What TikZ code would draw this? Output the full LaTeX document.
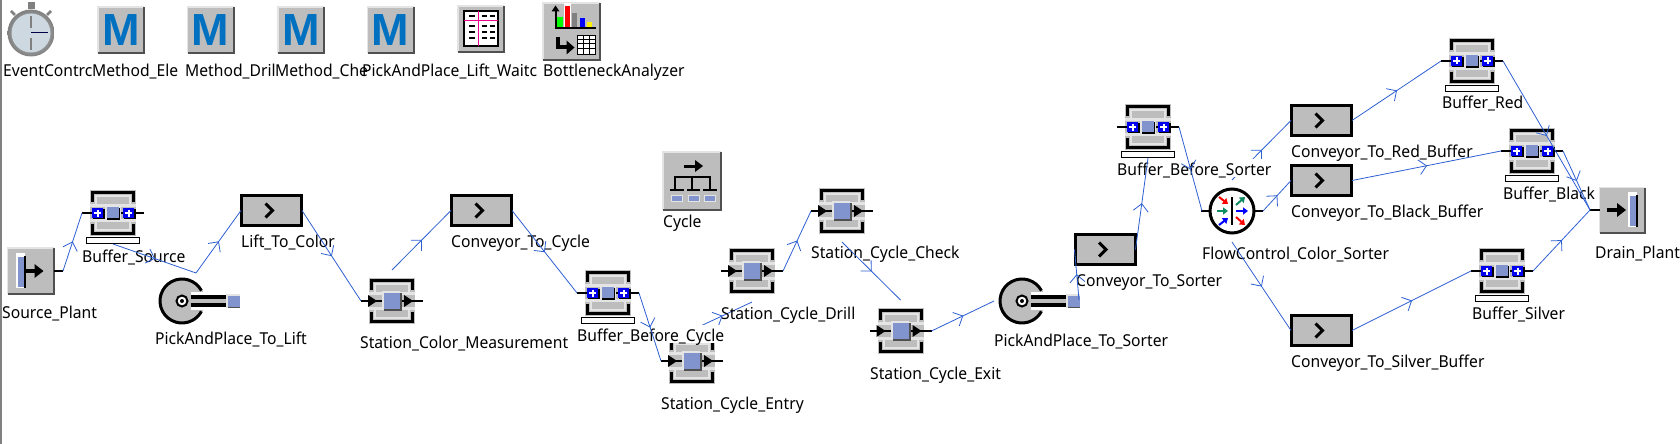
\documentclass[tikz,border=0pt]{standalone}
\usepackage{fontspec}
\setmainfont{Noto Sans}[FakeStretch=0.955]
\newfontfamily\iconfont{Liberation Sans}
\usetikzlibrary{arrows.meta,decorations.markings}
\definecolor{panelgray}{RGB}{189, 189, 189}
\definecolor{panellight}{RGB}{228, 228, 228}
\definecolor{paneldark}{RGB}{80, 80, 80}
\definecolor{itemblue}{RGB}{130, 148, 205}
\definecolor{plusblue}{RGB}{0, 0, 240}
\definecolor{linkblue}{RGB}{45, 95, 210}
\definecolor{methodblue}{RGB}{0, 112, 192}
\definecolor{flowgreen}{RGB}{16, 140, 100}
\definecolor{watchface}{RGB}{205, 216, 224}

% Shared parts of the icons
\newcommand{\flatpanel}[1]{
    \node[iconback, minimum size=#1pt] (-body) at (0,0) {};
    \draw[panellight, line width=1.5pt] (-body.south west) -- (-body.north west) -- (-body.north east);
    \draw[paneldark, line width=2pt] (-body.north east) -- (-body.south east) -- (-body.south west);
}
\newcommand{\bracketframe}{
    \node[iconback, minimum size=46pt] (-body) at (0,0) {};
    \draw[panellight, line width=2pt] (-17,-8) -- (-17,-17) -- (17,-17) -- (17,-8);
    \draw[panellight, line width=2pt] (-17,8) -- (-17,17) -- (17,17) -- (17,8);
    \fill[panellight] (-23,-9) rectangle (23,9);
    \fill[panelgray] (-23,-6) rectangle (23,6);
    \draw[black, line width=3pt] (-20.5,-11) -- (-20.5,-20.5) -- (20.5,-20.5) -- (20.5,-11);
    \draw[black, line width=3pt] (-20.5,11) -- (-20.5,20.5) -- (20.5,20.5) -- (20.5,11);
    \coordinate (-in) at (-31,0);
    \coordinate (-out) at (31,0);
    \coordinate (-top) at (0,-31);
    \coordinate (-bot) at (0,31);
}
\newcommand{\plusbox}[1]{
    \begin{scope}[xshift=#1pt]
        \fill[black] (-5,-4) rectangle (7,6);
        \fill[plusblue] (-6,-5) rectangle (5,5);
        \draw[white, line width=2pt] (-4,0) -- (3,0) (-0.5,-3.5) -- (-0.5,3.5);
    \end{scope}
}

\tikzset{
    iconback/.style={rectangle, fill=panelgray, inner sep=0pt, outer sep=0pt},
    stub/.style={black, line width=2pt},
    labeltext/.style={anchor=base west, inner sep=0pt, font=\fontsize{16.4}{20}\selectfont},
    labelmask/.style={labeltext, fill=white, text height=16pt, text depth=2pt},
    flowlink/.style={draw=linkblue, line width=0.8pt, postaction={decorate}, decoration={markings,
        mark=at position 0.5 with {\draw[linkblue, line width=0.8pt] (-7.5,7.5) -- (0,0) -- (-7.5,-7.5);}}},
    pics/stationicon/.style={code={
        \bracketframe
        \draw[stub] (-31,0) -- (31,0);
        \fill[black] (-24,-6) -- (-15,0) -- (-24,6) -- cycle;
        \fill[black] (12,-6) -- (21,0) -- (12,6) -- cycle;
        \fill[panellight] (-10,-10) rectangle (8,8);
        \fill[paneldark] (-8,-8) rectangle (10,10);
        \fill[itemblue] (-8,-8) rectangle (8,8);
    }},
    pics/buffericon/.style={code={
        \bracketframe
        \draw[stub] (-31,0) -- (31,0);
        \fill[panellight] (-8,-8) rectangle (8,8);
        \fill[black] (-6,-5) rectangle (7,7);
        \fill[itemblue] (-6,-6) rectangle (6,5);
        \plusbox{-15}
        \plusbox{16}
        \draw[black, fill=white, line width=1pt] (-26.5,24.5) rectangle (26.5,30);
    }},
    pics/conveyoricon/.style={code={
        \node[iconback, draw=black, line width=3pt, minimum width=60pt, minimum height=30pt] (-body) at (0,0) {};
        \draw[black, line width=3pt] (-6,-7) -- (1,0) -- (-6,7);
        \coordinate (-in) at (-30.5,0);
        \coordinate (-out) at (30.5,0);
    }},
    pics/pickicon/.style={code={
        \fill[panelgray] (0,0) circle (23pt);
        \draw[black, line width=3pt] (28:22pt) arc (28:332:22pt);
        \fill[white] (9,-9) rectangle (44,9);
        \fill[panelgray] (9,-3) rectangle (46,3);
        \draw[black, line width=3.5pt] (9,-4) -- (45,-4) (9,4) -- (45,4);
        \fill[panellight] (44,-7) rectangle (58,7);
        \fill[itemblue] (46,-5.5) rectangle (58,5.5);
        \fill[paneldark] (46,5.5) rectangle (58,6.5);
        \node[circle, draw=black, fill=white, line width=2pt, minimum size=11pt, inner sep=0pt] (-hub) at (0,0) {};
        \fill[black] (0,0) circle (2pt);
        \coordinate (-in) at (-28,0);
        \coordinate (-out) at (57,-1);
        \coordinate (-top) at (14,-28);
    }},
    pics/sourceicon/.style={code={
        \flatpanel{46}
        \fill[white] (-15,-18) rectangle (-6,17);
        \fill[black] (-7,-15) rectangle (-5,17);
        \fill[itemblue] (-13,-14) rectangle (-7,16);
        \draw[black, line width=3.5pt] (-5,0) -- (6,0);
        \fill[black] (4,-7) -- (13,0) -- (4,7) -- cycle;
        \draw[stub] (23,0) -- (32.5,0);
        \coordinate (-out) at (32.5,0);
    }},
    pics/drainicon/.style={code={
        \flatpanel{45}
        \fill[white] (6,-18) rectangle (15,17);
        \fill[black] (14,-15) rectangle (16,17);
        \fill[itemblue] (8,-14) rectangle (14,16);
        \draw[black, line width=3.5pt] (-15,0) -- (-3,0);
        \fill[black] (-5,-7) -- (4,0) -- (-5,7) -- cycle;
        \draw[stub] (-32,0) -- (-22,0);
        \coordinate (-in) at (-32,0);
    }},
    pics/flowicon/.style={code={
        \node[circle, draw=black, fill=white, line width=3pt, minimum size=44pt, inner sep=0pt] (-body) at (0,0) {};
        \draw[stub] (-31,0) -- (-23,0) (23,0) -- (31,0);
        \draw[black, line width=2.5pt] (0,-14) -- (0,14);
        \draw[-{Triangle[length=5pt,width=7pt]}, flowgreen, line width=2pt] (-15,0) -- (-4,0);
        \draw[-{Triangle[length=5pt,width=7pt]}, red, line width=2pt] (-13,-14) -- (-4,-7);
        \draw[-{Triangle[length=5pt,width=7pt]}, blue, line width=2pt] (-13,14) -- (-4,7);
        \draw[-{Triangle[length=5pt,width=7pt]}, blue, line width=2pt] (4,0) -- (16,0);
        \draw[-{Triangle[length=5pt,width=7pt]}, flowgreen, line width=2pt] (4,-6) -- (13,-14);
        \draw[-{Triangle[length=5pt,width=7pt]}, red, line width=2pt] (4,6) -- (13,14);
        \coordinate (-in) at (-30,0);
        \coordinate (-out) at (31,0);
        \coordinate (-top) at (0,-31);
        \coordinate (-bot) at (0,31);
    }},
    pics/methodicon/.style={code={
        \flatpanel{46}
        \node[inner sep=0pt, text=methodblue, font=\iconfont\bfseries\fontsize{45}{45}\selectfont] (-letter) at (0,0) {M};
    }},
    pics/tableicon/.style={code={
        \flatpanel{46}
        \draw[black, fill=white, line width=2.5pt] (-17,-18) rectangle (17,17);
        \draw[magenta, line width=1pt] (-3,-18) -- (-3,17) (-17,-8) -- (17,-8);
        \draw[black, line width=2pt] (-12,-13) -- (-6,-13) (1,-13) -- (6,-13) (9,-13) -- (14,-13);
        \draw[black, line width=1.5pt] (-12,-3) -- (-6,-3) (1,-3) -- (6,-3) (9,-3) -- (14,-3);
        \draw[black, line width=1.5pt] (-12,3) -- (-6,3) (1,3) -- (6,3) (9,3) -- (14,3);
        \draw[black, line width=1.5pt] (-12,9) -- (-6,9) (1,9) -- (6,9) (9,9) -- (14,9);
    }},
    pics/cycleicon/.style={code={
        \flatpanel{58}
        \draw[black, line width=3pt] (-8,-15) -- (6,-15);
        \fill[black] (3,-21) -- (11,-15) -- (3,-9) -- cycle;
        \draw[black, line width=2pt] (-17,2) -- (-17,-4) -- (18,-4) -- (18,2) (0,-4) -- (0,2);
        \draw[black, line width=2pt] (-22,9) -- (-8,9) (-5,9) -- (8,9) (11,9) -- (25,9);
        \draw[black, line width=2pt] (-17,2) -- (-17,9) (0,2) -- (0,9) (18,2) -- (18,9);
        \draw[panellight, fill=itemblue, line width=1pt] (-21,14) rectangle (-10,20);
        \draw[panellight, fill=itemblue, line width=1pt] (-4,14) rectangle (7,20);
        \draw[panellight, fill=itemblue, line width=1pt] (12,14) rectangle (23,20);
    }},
    pics/bottleneckicon/.style={code={
        \flatpanel{57}
        \draw[black, line width=2pt] (-16,-20) -- (-16,-3) -- (24,-3);
        \fill[black] (-20,-20) -- (-16,-26) -- (-12,-20) -- cycle;
        \fill[white] (-8,-28) rectangle (-1,-4);
        \fill[green] (-15,-14) rectangle (-9,-4);
        \fill[red] (-7,-25) rectangle (-2,-4);
        \fill[gray] (0,-18) rectangle (5,-4);
        \fill[blue] (8,-13) rectangle (13,-4);
        \fill[yellow] (15,-9) rectangle (20,-4);
        \draw[black, line width=4pt] (-14,6) -- (-14,16) -- (-4,16);
        \fill[black] (-5,9) -- (3,16) -- (-5,23) -- cycle;
        \draw[black, fill=white, line width=1pt] (6,4) rectangle (24,23);
        \draw[black, line width=1pt] (6,8) -- (24,8) (6,12.5) -- (24,12.5) (6,17) -- (24,17) (12,4) -- (12,23) (18,4) -- (18,23);
    }},
    pics/watchicon/.style={code={
        \fill[gray] (-3.5,-31) rectangle (3.5,-24);
        \draw[gray, line width=2.5pt] (-20,-22) -- (-16,-18) (20,-22) -- (16,-18);
        \shade[inner color=gray!25, outer color=gray] (0,0) circle (23.5pt);
        \node[circle, fill=watchface, minimum size=39pt, inner sep=0pt] (-face) at (0,0) {};
        \draw[gray, line width=1.5pt] (0,-17) -- (0,-5) (0,5) -- (0,17);
        \draw[black!70!blue, line width=1pt] (0,0) -- (17,0);
    }}
}

\begin{document}
\begin{tikzpicture}[x=1pt, y=-1pt]
    \useasboundingbox (0,0) rectangle (1680,444);
    \fill[gray] (0,0) rectangle (1.5,444);

    % Top row - tools
    \pic (EventControl) at (31,33) {watchicon};
    \pic (MethodOne) at (121,30) {methodicon};
    \pic (MethodTwo) at (210.5,30) {methodicon};
    \pic (MethodThree) at (301,30) {methodicon};
    \pic (MethodFour) at (390.5,30) {methodicon};
    \pic (LiftWait) at (481,29) {tableicon};
    \pic (Bottleneck) at (571.5,31.5) {bottleneckicon};
    \pic (Cycle) at (692,181) {cycleicon};

    % Plant - first half
    \pic (Source) at (30.5,271) {sourceicon};
    \pic (BufSource) at (113,213) {buffericon};
    \pic (PickLift) at (182,301) {pickicon};
    \pic (ConvLift) at (271.5,210.5) {conveyoricon};
    \pic (StColor) at (392,301) {stationicon};
    \pic (ConvCycle) at (481.5,210.5) {conveyoricon};
    \pic (BufCycle) at (608,293) {buffericon};
    \pic (StEntry) at (692,361) {stationicon};
    \pic (StDrill) at (752,271) {stationicon};
    \pic (StCheck) at (842,211) {stationicon};
    \pic (StExit) at (900.5,331) {stationicon};

    % Plant - second half
    \pic (PickSorter) at (1022,301) {pickicon};
    \pic (ConvSorter) at (1105,249.5) {conveyoricon};
    \pic (BufSorter) at (1148,127) {buffericon};
    \pic (Flow) at (1232,211) {flowicon};
    \pic (ConvRed) at (1321.5,120.5) {conveyoricon};
    \pic (ConvBlack) at (1321.5,180.5) {conveyoricon};
    \pic (ConvSilver) at (1321.5,330.5) {conveyoricon};
    \pic (BufRed) at (1472,61) {buffericon};
    \pic (BufBlack) at (1532,151) {buffericon};
    \pic (BufSilver) at (1502,271) {buffericon};
    \pic (Drain) at (1622,210) {drainicon};

    % Links that pass under a label
    \draw[flowlink] (StEntry-top) -- (StDrill-bot);
    \draw[flowlink] (Flow-top) -- (ConvRed-in);

    % Labels - top row
    \node[labeltext] (EventControlText) at (3,77) {EventContrc};
    \node[labeltext] (MethodOneText) at (92,77) {Method\_Ele};
    \node[labeltext] (MethodTwoText) at (185,77) {Method\_Dril};
    \node[labeltext] (MethodThreeText) at (275,77) {Method\_Che};
    \node[labeltext] (LiftWaitText) at (362,77) {PickAndPlace\_Lift\_Waitc};
    \node[labeltext] (BottleneckText) at (543,77) {BottleneckAnalyzer};
    \node[labeltext] (CycleText) at (663,227) {Cycle};

    % Labels - plant
    \node[labeltext] (SourceText) at (2,318) {Source\_Plant};
    \node[labeltext] (BufSourceText) at (82,262) {Buffer\_Source};
    \node[labeltext] (PickLiftText) at (155,344) {PickAndPlace\_To\_Lift};
    \node[labeltext] (ConvLiftText) at (241,247) {Lift\_To\_Color};
    \node[labeltext] (StColorText) at (360,348) {Station\_Color\_Measurement};
    \node[labeltext] (ConvCycleText) at (451,247) {Conveyor\_To\_Cycle};
    \node[labelmask] (BufCycleText) at (577,341) {Buffer\_Before\_Cycle};
    \node[labeltext] (StEntryText) at (661,409) {Station\_Cycle\_Entry};
    \node[labeltext] (StDrillText) at (721,319) {Station\_Cycle\_Drill};
    \node[labeltext] (StCheckText) at (811,258) {Station\_Cycle\_Check};
    \node[labeltext] (StExitText) at (870,379) {Station\_Cycle\_Exit};
    \node[labeltext] (PickSorterText) at (994,346) {PickAndPlace\_To\_Sorter};
    \node[labeltext] (ConvSorterText) at (1076,286) {Conveyor\_To\_Sorter};
    \node[labelmask] (BufSorterText) at (1117,175) {Buffer\_Before\_Sorter};
    \node[labeltext] (FlowText) at (1202,259) {FlowControl\_Color\_Sorter};
    \node[labeltext] (ConvRedText) at (1291,157) {Conveyor\_To\_Red\_Buffer};
    \node[labeltext] (ConvBlackText) at (1291,217) {Conveyor\_To\_Black\_Buffer};
    \node[labeltext] (ConvSilverText) at (1291,367) {Conveyor\_To\_Silver\_Buffer};
    \node[labeltext] (BufRedText) at (1442,108) {Buffer\_Red};
    \node[labeltext] (BufBlackText) at (1503,199) {Buffer\_Black};
    \node[labeltext] (BufSilverText) at (1472,319) {Buffer\_Silver};
    \node[labeltext] (DrainText) at (1595,258) {Drain\_Plant};

    % Links
    \draw[flowlink] (Source-out) -- (BufSource-in);
    \draw[flowlink] (BufSource-bot) -- (PickLift-top);
    \draw[flowlink] (PickLift-top) -- (ConvLift-in);
    \draw[flowlink] (ConvLift-out) -- (StColor-in);
    \draw[flowlink] (StColor-top) -- (ConvCycle-in);
    \draw[flowlink] (ConvCycle-out) -- (BufCycle-in);
    \draw[flowlink] (BufCycle-out) -- (StEntry-in);
    \draw[flowlink] (StDrill-out) -- (StCheck-in);
    \draw[flowlink] (StCheck-bot) -- (StExit-top);
    \draw[flowlink] (StExit-out) -- (PickSorter-in);
    \draw[flowlink] (PickSorter-out) -- (ConvSorter-in);
    \draw[flowlink] (ConvSorter-out) -- (BufSorter-bot);
    \draw[flowlink] (BufSorter-out) -- (Flow-in);
    \draw[flowlink] (Flow-out) -- (ConvBlack-in);
    \draw[flowlink] (Flow-bot) -- (ConvSilver-in);
    \draw[flowlink] (ConvRed-out) -- (BufRed-in);
    \draw[flowlink] (ConvBlack-out) -- (BufBlack-in);
    \draw[flowlink] (ConvSilver-out) -- (BufSilver-in);
    \draw[flowlink] (BufRed-out) -- (Drain-in);
    \draw[flowlink] (BufBlack-out) -- (Drain-in);
    \draw[flowlink] (BufSilver-out) -- (Drain-in);
\end{tikzpicture}
\end{document}
